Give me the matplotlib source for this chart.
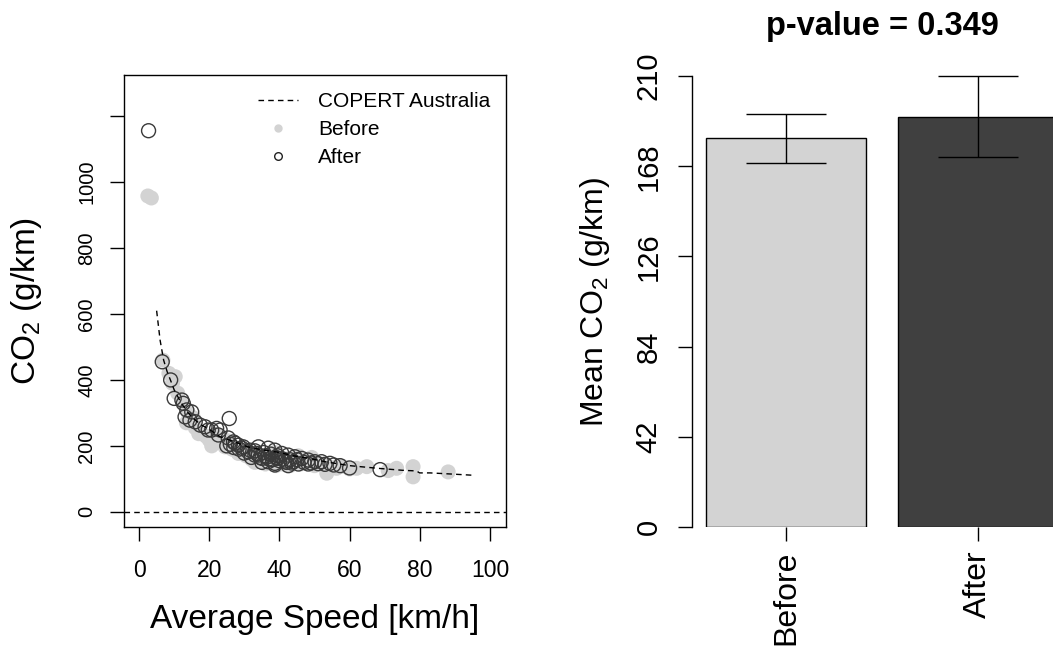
import matplotlib
matplotlib.use('Agg')
import matplotlib.pyplot as plt
from matplotlib.lines import Line2D

plt.rcParams['font.family'] = ['Liberation Sans', 'DejaVu Sans']
plt.rcParams['mathtext.fontset'] = 'custom'
plt.rcParams['mathtext.rm'] = 'Liberation Sans'
plt.rcParams['mathtext.default'] = 'regular'

# scatter data
before_speed = [2.5, 3.5, 6.8, 8.5, 9.5, 10.3, 11, 12.5, 14, 15.5, 13.5, 16, 17, 19, 20,
                20.7, 22, 23, 23.6, 24.5, 25.5, 26.5, 28.3, 29.5, 30.5, 32, 33, 34.5, 36,
                37.5, 38.7, 39, 41, 42, 43, 45.4, 46, 48, 49.2, 50, 52, 53.5, 55.8, 56.3,
                58, 60, 62, 64.9, 71, 73.4, 78.1, 78.1, 88.1]
before_co2 = [958, 952, 460, 420, 390, 410, 360, 330, 300, 285, 270, 255, 237, 230, 218,
              200, 235, 225, 227, 197, 215, 190, 177, 185, 170, 160, 150, 155, 145,
              150, 180, 140, 145, 160, 140, 170, 145, 150, 165, 140, 145, 117, 135, 132,
              138, 130, 132, 137, 125, 132, 137, 106, 121]

after_speed = [2.7, 6.6, 9.0, 10.0, 12.2, 12.6, 13.6, 15.0, 13.1, 14.5, 16.0, 17.4, 18.8,
               19.7, 20.7, 22.1, 23.1, 25.7, 22.6, 25.4, 26.9, 27.4, 28.3, 29.3, 29.7, 31.1,
               31.6, 33.0, 33.5, 35.0, 36.8, 38.7, 34.0, 36.8, 38.7, 40.7, 42.5, 44.4, 46.4,
               48.2, 50.1, 35.0, 38.7, 42.5, 45.4, 48.2, 52.0, 54.4, 57.3, 60.0, 68.7,
               36.0, 37.0, 39.0, 40.0, 41.0, 42.0, 43.0, 44.0, 37.5, 39.5, 35.5, 34.5, 32.0,
               30.0, 28.5, 27.0, 26.0, 25.0, 33.0, 34.0, 36.5, 38.0, 39.5, 41.5, 43.5, 45.0,
               47.0, 49.0, 51.0, 53.0, 55.5]
after_co2 = [1156, 455, 400, 344, 339, 329, 309, 303, 288, 278, 273, 263, 258,
             248, 248, 253, 248, 283, 233, 224, 212, 208, 202, 193, 197, 182,
             187, 172, 177, 162, 152, 147, 197, 193, 187, 177, 172, 167, 162,
             157, 152, 150, 142, 140, 145, 145, 152, 147, 140, 133, 128,
             170, 160, 165, 155, 160, 150, 158, 152, 175, 170, 180, 165, 165,
             178, 190, 195, 205, 200, 185, 172, 166, 158, 162, 154, 148, 158,
             150, 148, 146, 144, 142]

copert_speed = [5, 6, 7, 8, 9, 10, 12, 14, 16, 18, 20, 23, 27, 31, 35, 40, 44, 49, 53,
                60, 68, 75, 79, 80, 83, 90, 95]
copert_co2 = [610, 520, 460, 425, 398, 370, 330, 300, 278, 262, 250, 228, 213, 197, 188,
              180, 170, 161, 152, 140, 132, 126, 124, 118, 118, 114, 111]

x_ticks = [0, 20, 40, 60, 80, 100]
y_ticks = [0, 200, 400, 600, 800, 1000, 1200]
y_tick_labels = ['0', '200', '400', '600', '800', '1000', '']

# bar data
groups = ['Before', 'After']
means = [181, 191]
errors = [11.3, 18.8]
bar_colors = ['#d3d3d3', '#404040']
bar_yticks = [0, 42, 84, 126, 168, 210]

fig = plt.figure(figsize=(10.53, 6.47), dpi=100)

# ---- left: scatter ----
ax1 = fig.add_axes([124 / 1053, 1 - 527.3 / 647, 381.7 / 1053, 452.3 / 647])
ax1.scatter(before_speed, before_co2, s=117, color='#d3d3d3', edgecolors='none', zorder=2)
ax1.scatter(after_speed, after_co2, s=101, facecolors='none', edgecolors='#3a3a3a',
            linewidths=1.0, zorder=3)
ax1.plot(copert_speed, copert_co2, color='black', lw=1, ls=(0, (4, 3)), zorder=4)
ax1.axhline(0, color='black', lw=1, ls=(0, (4, 3)), zorder=4)
ax1.set_xlim(-4.3, 104.5)
ax1.set_ylim(-47, 1325)
ax1.set_xticks(x_ticks)
ax1.set_yticks(y_ticks)
ax1.set_yticklabels(y_tick_labels)
ax1.tick_params(axis='both', length=10, width=1)
ax1.tick_params(axis='x', labelsize=16.5, pad=13)
ax1.tick_params(axis='y', labelsize=14.5, labelrotation=90, pad=10)
for lab in ax1.get_yticklabels():
    lab.set_va('center')
for sp in ax1.spines.values():
    sp.set_linewidth(1)
ax1.set_xlabel('Average Speed [km/h]', fontsize=24)
ax1.set_ylabel(r'CO$_2$ (g/km)', fontsize=24)
ax1.xaxis.set_label_coords(0.5, -0.17)
ax1.yaxis.set_label_coords(-0.21, 0.5)

handles = [
    Line2D([], [], color='black', lw=1, ls=(0, (4, 3))),
    Line2D([], [], marker='o', ls='none', color='#d3d3d3', markersize=5),
    Line2D([], [], marker='o', ls='none', markerfacecolor='none', markeredgecolor='#222222',
           markersize=5.5, markeredgewidth=1),
]
ax1.legend(handles, ['COPERT Australia', 'Before', 'After'], loc='upper left',
           bbox_to_anchor=((258 - 124) / 381.7, 1 - (92 - 75) / 452.3), frameon=False,
           fontsize=15, borderpad=0, handlelength=1.9, handletextpad=1.0,
           labelspacing=0.44, borderaxespad=0)

# ---- right: bars ----
ax2 = fig.add_axes([692 / 1053, 1 - 527 / 647, 380 / 1053, 451 / 647])
pos = [0.7, 1.9]
ax2.bar(pos, means, width=1.0, color=bar_colors, edgecolor='black', linewidth=1, zorder=2)
ax2.errorbar(pos, means, yerr=errors, fmt='none', ecolor='black', elinewidth=1,
             capsize=29, capthick=1, clip_on=False, zorder=3)
ax2.set_xlim(0.112, 2.488)
ax2.set_ylim(0, 210)
for s in ['top', 'right', 'bottom']:
    ax2.spines[s].set_visible(False)
ax2.spines['left'].set_bounds(0, 210)
ax2.spines['left'].set_linewidth(1)
ax2.set_yticks(bar_yticks)
ax2.set_xticks(pos)
ax2.set_xticklabels(groups)
ax2.tick_params(axis='both', length=10, width=1)
ax2.tick_params(axis='y', labelsize=21, labelrotation=90, pad=11)
ax2.tick_params(axis='x', labelsize=23, labelrotation=90, pad=7)
for lab in ax2.get_yticklabels():
    lab.set_va('center')
ax2.set_ylabel(r'Mean CO$_2$ (g/km)', fontsize=23)
ax2.yaxis.set_label_coords(-0.211, 0.5)
ax2.text(0.5, (527 - 26) / 451, 'p-value = 0.349', transform=ax2.transAxes,
         ha='center', va='center', fontsize=23.5, fontweight='bold')

fig.savefig('out.png', dpi=100)
